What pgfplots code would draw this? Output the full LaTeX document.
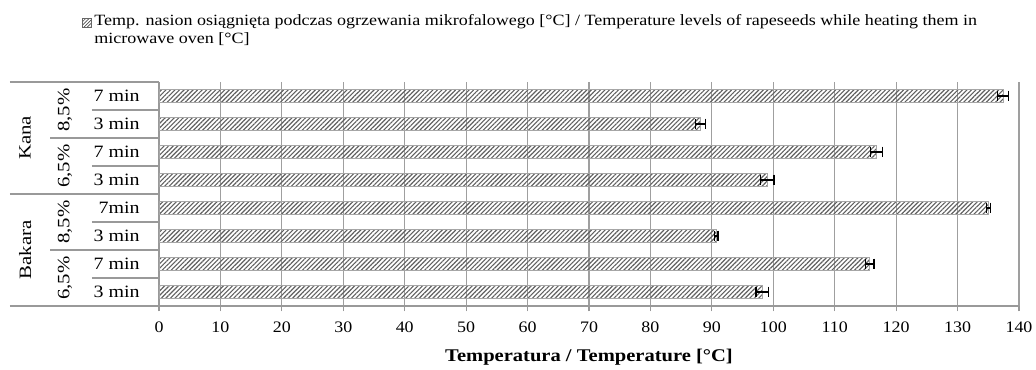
\documentclass[border=0pt]{standalone}
\usepackage{pgfplots}
\pgfplotsset{compat=1.18}
\usepackage{pgfplotstable}
\usepackage{fontspec}
\setmainfont{Liberation Serif}
\newfontfamily\wide{Liberation Serif}[FakeStretch=1.12]
\newfontfamily\legf{Liberation Serif}[FakeStretch=1.15]
\newfontfamily\rot{Liberation Serif}[FakeStretch=1.2]
\usetikzlibrary{patterns.meta}

\pgfplotstableread{
pos val err
0 98.2 1.0
1 115.7 0.7
2 90.7 0.3
3 135.0 0.3
4 99.0 1.1
5 116.8 1.0
6 88.1 0.8
7 137.4 0.9
}\data

\begin{document}
\begin{tikzpicture}
\useasboundingbox (0pt,0pt) rectangle (777pt,276.75pt);
\begin{axis}[
  at={(119.25pt,47.25pt)}, anchor=south west,
  scale only axis, width=645pt, height=168pt,
  xmin=0, xmax=140, ymin=-0.5, ymax=7.5,
  xtick={0,10,...,140},
  ytick={0,...,7},
  yticklabels={3 min,7 min,3 min,7min,3 min,7 min,3 min,7 min},
  yticklabel style={font=\legf\fontsize{13}{14}\selectfont, anchor=east, xshift=-7pt},
  xticklabel style={font=\wide\fontsize{12}{13}\selectfont, yshift=-4pt},
  /pgf/number format/assume math mode=true,
  axis x line*=bottom, axis y line*=left,
  axis line style={draw=gray!80, line width=0.8pt},
  xmajorgrids, grid style={draw=gray!75, line width=0.8pt},
  tick align=outside, major tick length=4pt,
  major x tick style={draw=gray!80, line width=0.8pt},
  ytick style={draw=none},
  xlabel={\textbf{Temperatura / Temperature [°C]}},
  xlabel style={font=\legf\fontsize{13.4}{15}\selectfont, yshift=-6pt},
  clip=false,
  legend style={at={(-0.0895,1.313)}, anchor=north west, draw=none, fill=none,
    inner sep=0pt, font=\legf\fontsize{11.75}{13.5}\selectfont,
    cells={anchor=west, align=left}},
  legend image code/.code={\draw[draw=gray!80!black, line width=0.5pt, pattern={Lines[angle=45,distance=1.8pt,line width=0.5pt]}, pattern color=gray!60!black] (0pt,2.5pt) rectangle (6.5pt,9pt);},
]
\addplot[xbar, bar width=0.46, draw=gray!70, line width=0.6pt,
  pattern={Lines[angle=45,distance=2.4pt,line width=0.85pt]}, pattern color=gray!75!black,
  error bars/.cd, x dir=both, x explicit, error mark=|,
  error bar style={black, line width=0.9pt},
  error mark options={black, line width=0.9pt, mark size=4pt}]
  table[x=val, y=pos, x error=err] {\data};
\addlegendentry{Temp. nasion osiągnięta podczas ogrzewania mikrofalowego [°C] / Temperature levels of rapeseeds while heating them in\\microwave oven [°C]}

% category separators
\draw[gray!80, line width=0.8pt] (axis cs:-24.26,7.5) -- (axis cs:0,7.5);
\draw[gray!80, line width=0.8pt] (axis cs:-24.26,3.5) -- (axis cs:0,3.5);
\draw[gray!80, line width=0.8pt] (axis cs:-24.26,-0.5) -- (axis cs:0,-0.5);
\draw[gray!80, line width=0.8pt] (axis cs:-17.74,5.5) -- (axis cs:0,5.5);
\draw[gray!80, line width=0.8pt] (axis cs:-17.74,1.5) -- (axis cs:0,1.5);
\draw[gray!80, line width=0.8pt] (axis cs:-10.91,0.5) -- (axis cs:0,0.5);
\draw[gray!80, line width=0.8pt] (axis cs:-10.91,2.5) -- (axis cs:0,2.5);
\draw[gray!80, line width=0.8pt] (axis cs:-10.91,4.5) -- (axis cs:0,4.5);
\draw[gray!80, line width=0.8pt] (axis cs:-10.91,6.5) -- (axis cs:0,6.5);
\node[rotate=90, font=\rot\fontsize{13}{14}\selectfont] at (axis cs:-15.3,6.5) {8,5\%};
\node[rotate=90, font=\rot\fontsize{13}{14}\selectfont] at (axis cs:-15.3,4.5) {6,5\%};
\node[rotate=90, font=\rot\fontsize{13}{14}\selectfont] at (axis cs:-15.3,2.5) {8,5\%};
\node[rotate=90, font=\rot\fontsize{13}{14}\selectfont] at (axis cs:-15.3,0.5) {6,5\%};
\node[rotate=90, font=\rot\fontsize{13}{14}\selectfont] at (axis cs:-21.8,5.5) {Kana};
\node[rotate=90, font=\rot\fontsize{13}{14}\selectfont] at (axis cs:-21.8,1.5) {Bakara};
\end{axis}
\end{tikzpicture}
\end{document}
